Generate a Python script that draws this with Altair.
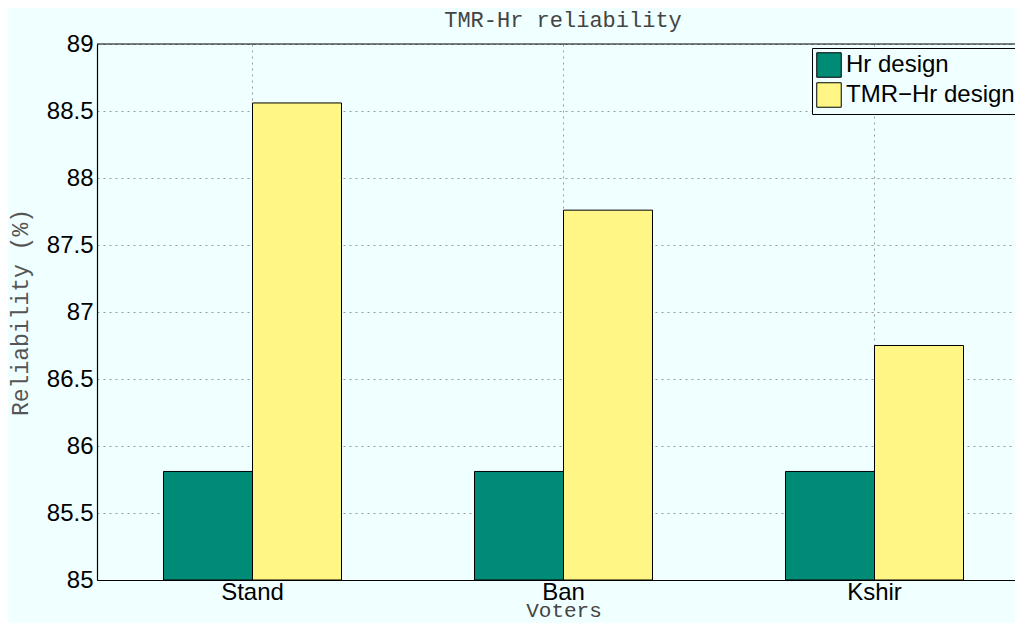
import altair as alt
import pandas as pd

voters = ["Stand", "Ban", "Kshir"]
hr_design = [85.81, 85.81, 85.81]
tmr_hr_design = [88.56, 87.76, 86.75]
series_names = ["Hr design", "TMR\u2212Hr design"]
series_colors = ["#008B77", "#FFF685"]
y_ticks = [85, 85.5, 86, 86.5, 87, 87.5, 88, 88.5, 89]
y_domain = [85, 89]
baseline = 85

rows = []
for i, v in enumerate(voters):
    rows.append({"voter": v, "series": series_names[0], "value": hr_design[i], "base": baseline})
    rows.append({"voter": v, "series": series_names[1], "value": tmr_hr_design[i], "base": baseline})
df = pd.DataFrame(rows)
top_df = pd.DataFrame({"top": [y_domain[1]]})

BG = "#F0FFFF"
MONO = "Liberation Mono"
SANS = "Liberation Sans"
W, H = 918, 536
FULL_W = 933

y_scale = alt.Scale(domain=y_domain, zero=False, nice=False)

bars = alt.Chart(df).mark_bar(stroke="black", strokeWidth=1).encode(
    x=alt.X(
        "voter:N", sort=voters,
        scale=alt.Scale(paddingInner=0, paddingOuter=0, range=[0, FULL_W]),
        axis=alt.Axis(
            title="Voters", bandPosition=0.5, labelAngle=0,
            labelFont=SANS, labelFontSize=24, labelColor="black",
            labelBaseline="alphabetic", labelPadding=19,
            ticks=False, tickSize=0,
            grid=True, gridColor="#9a9a9a", gridDash=[2, 4], gridWidth=1,
            domain=True, domainColor="black", domainWidth=1.2,
            titleFont=MONO, titleFontSize=21, titleFontWeight="normal", titleColor="#444",
            titleBaseline="alphabetic", titleY=36, titleX=FULL_W / 2,
        ),
    ),
    xOffset=alt.XOffset(
        "series:N", sort=series_names,
        scale=alt.Scale(paddingInner=0, paddingOuter=0.747),
    ),
    y=alt.Y(
        "value:Q",
        scale=y_scale,
        axis=alt.Axis(
            title="Reliability (%)", values=y_ticks, format="~g",
            labelFont=SANS, labelFontSize=24, labelColor="black", labelPadding=4,
            ticks=False, tickSize=0,
            grid=True, gridColor="#9a9a9a", gridDash=[2, 4], gridWidth=1,
            domain=True, domainColor="black", domainWidth=1.2,
            titleFont=MONO, titleFontSize=23, titleFontWeight="normal", titleColor="#555",
            titleAngle=270, titleBaseline="middle", titleAlign="center",
            titleX=-77, titleY=H / 2,
        ),
    ),
    y2="base:Q",
    color=alt.Color(
        "series:N", sort=series_names,
        scale=alt.Scale(domain=series_names, range=series_colors),
        legend=alt.Legend(
            title=None, orient="none", legendX=715, legendY=4,
            symbolType="square", symbolSize=600, symbolStrokeColor="black",
            symbolStrokeWidth=1, symbolOpacity=1,
            labelFont=SANS, labelFontSize=24, labelColor="black", labelLimit=400,
            labelOffset=4, rowPadding=0, padding=4,
            strokeColor="black", fillColor=BG, cornerRadius=0,
        ),
    ),
)

top_line = alt.Chart(top_df).mark_rule(color="black", strokeWidth=1.2).encode(
    y=alt.Y("top:Q", scale=y_scale),
)

chart = alt.layer(bars, top_line).properties(
    width=W,
    height=H,
    autosize=alt.AutoSizeParams(type="none"),
    padding={"left": 89, "top": 36, "right": 0, "bottom": 43},
    background=BG,
    title=alt.TitleParams(
        "TMR-Hr reliability", font=MONO, fontSize=22, fontWeight="normal",
        color="#444", anchor="middle", offset=0, dx=7,
    ),
).configure_view(stroke=None, fill=BG)

chart.save("out.html", embed_options={"renderer": "svg", "actions": False})
